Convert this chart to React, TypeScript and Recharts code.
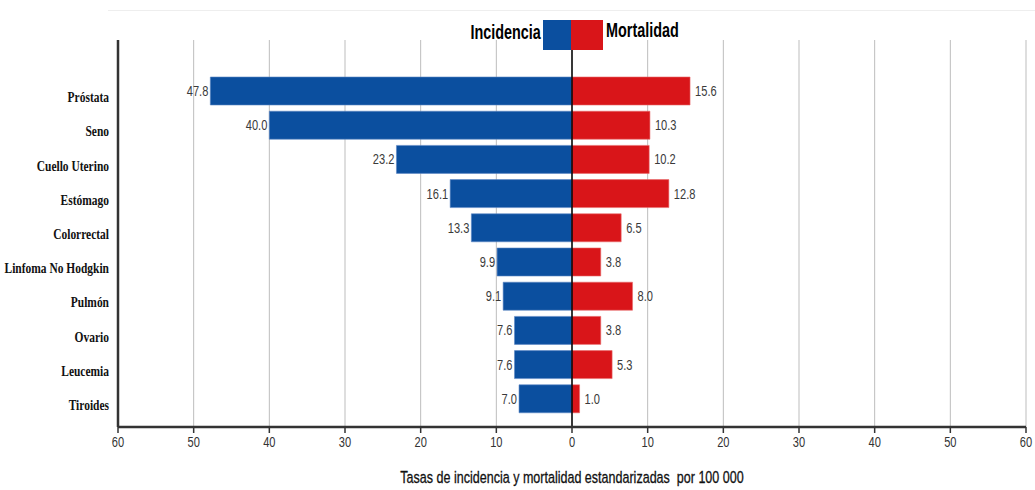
import React from 'react';
import {
  BarChart,
  Bar,
  XAxis,
  YAxis,
  CartesianGrid,
  ReferenceLine,
  LabelList,
} from 'recharts';

// Cancer sites, top to bottom
const sites = [
  'Próstata',
  'Seno',
  'Cuello Uterino',
  'Estómago',
  'Colorrectal',
  'Linfoma No Hodgkin',
  'Pulmón',
  'Ovario',
  'Leucemia',
  'Tiroides',
];

// Standardised rates per 100 000
const incidencia = [47.8, 40.0, 23.2, 16.1, 13.3, 9.9, 9.1, 7.6, 7.6, 7.0];
const mortalidad = [15.6, 10.3, 10.2, 12.8, 6.5, 3.8, 8.0, 3.8, 5.3, 1.0];

const xTicks = [-60, -50, -40, -30, -20, -10, 0, 10, 20, 30, 40, 50, 60];

const BLUE = '#0B4F9F';
const RED = '#D91519';
const SANS = '"Liberation Sans", Arial, sans-serif';
// no narrow face is available, so text is squeezed horizontally
const SQUEEZE = 0.74;

// incidence goes to the left as negative values
const data = sites.map((name, i) => ({
  name,
  incidencia: -incidencia[i],
  mortalidad: mortalidad[i],
}));

const CategoryTick = ({ x, y, payload }: any) => (
  <g transform={`translate(${x},${y})`}>
    <text
      x={0}
      y={0}
      dy={11}
      textAnchor="end"
      transform="scale(0.74,1)"
      fontFamily='"Liberation Serif", "Times New Roman", serif'
      fontWeight="bold"
      fontSize={15.5}
      fill="#111"
    >
      {payload.value}
    </text>
  </g>
);

const RateTick = ({ x, y, payload }: any) => (
  <g transform={`translate(${x},${y})`}>
    <text x={0} y={0} dy={12} textAnchor="middle" transform={`scale(${SQUEEZE},1)`} fontFamily={SANS} fontSize={15} fill="#333">
      {Math.abs(payload.value)}
    </text>
  </g>
);

// value label outside the free end of each bar
const ValueLabel = (props: any) => {
  const { x, y, width, height, value } = props;
  const left = Math.min(x, x + width);
  const right = Math.max(x, x + width);
  const neg = Number(value) < 0;
  const tx = neg ? left - 2 : right + 5;
  return (
    <g transform={`translate(${tx},${y + height / 2})`}>
      <text
        x={0}
        y={0}
        dy={5}
        textAnchor={neg ? 'end' : 'start'}
        transform={`scale(${SQUEEZE},1)`}
        fontFamily={SANS}
        fontSize={15}
        fill="#3a3a3a"
      >
        {Math.abs(Number(value)).toFixed(1)}
      </text>
    </g>
  );
};

const AxisTitle = ({ viewBox }: any) => (
  <g transform={`translate(${viewBox.x + viewBox.width / 2},${viewBox.y + viewBox.height + 6})`}>
    <text x={0} y={0} textAnchor="middle" transform="scale(0.76,1)" fontFamily={SANS} fontSize={16.5} fill="#111" stroke="#111" strokeWidth={0.3} style={{ whiteSpace: 'pre' }}>
      Tasas de incidencia y mortalidad estandarizadas  por 100 000
    </text>
  </g>
);

const legendText: React.CSSProperties = {
  fontFamily: SANS,
  fontWeight: 'bold',
  fontSize: 20,
  color: '#000',
  display: 'inline-block',
  transform: 'scaleX(0.72)',
  whiteSpace: 'nowrap',
};

const LegendBoxes = () => (
  <div style={{ position: 'absolute', left: 0, top: 20, width: 1035, height: 30, display: 'flex' }}>
    <div style={{ width: 571, display: 'flex', justifyContent: 'flex-end', alignItems: 'flex-start' }}>
      <span style={{ ...legendText, transformOrigin: 'right center', marginRight: 2, lineHeight: '24px' }}>Incidencia</span>
      <div style={{ width: 28, height: 30, background: BLUE }} />
    </div>
    <div style={{ display: 'flex', alignItems: 'flex-start' }}>
      <div style={{ width: 32, height: 30, background: RED }} />
      <span style={{ ...legendText, transformOrigin: 'left center', marginLeft: 3, lineHeight: '20px' }}>Mortalidad</span>
    </div>
  </div>
);

export default function App() {
  return (
    <div style={{ position: 'absolute', left: 0, top: 0, width: 1035, height: 490, background: '#fff' }}>
      <div style={{ position: 'absolute', left: 108, right: 0, top: 10, borderTop: '1px solid #eeeeee' }} />
      <BarChart
        width={1035}
        height={490}
        data={data}
        layout="vertical"
        stackOffset="sign"
        margin={{ top: 40, right: 9, left: 0, bottom: 13 }}
      >
        <CartesianGrid horizontal={false} stroke="#bdbdbd" strokeWidth={1} />
        <XAxis
          type="number"
          domain={[-60, 60]}
          ticks={xTicks}
          height={50}
          axisLine={{ stroke: '#333', strokeWidth: 2.5 }}
          tickLine={{ stroke: '#333', strokeWidth: 1.5 }}
          tickSize={6}
          tick={<RateTick />}
          label={<AxisTitle />}
        />
        <YAxis
          type="category"
          dataKey="name"
          width={118}
          padding={{ top: 34, bottom: 11 }}
          axisLine={{ stroke: '#333', strokeWidth: 2.5 }}
          tickLine={false}
          tickMargin={3}
          tick={<CategoryTick />}
          interval={0}
        />
        <Bar dataKey="incidencia" stackId="a" fill={BLUE} stroke="#5d86c4" strokeWidth={0.6} barSize={28} isAnimationActive={false}>
          <LabelList dataKey="incidencia" content={<ValueLabel />} />
        </Bar>
        <Bar dataKey="mortalidad" stackId="a" fill={RED} stroke="#e86a6a" strokeWidth={0.6} barSize={28} isAnimationActive={false}>
          <LabelList dataKey="mortalidad" content={<ValueLabel />} />
        </Bar>
        <ReferenceLine x={0} stroke="#000" strokeWidth={1.5} />
      </BarChart>
      <LegendBoxes />
    </div>
  );
}
